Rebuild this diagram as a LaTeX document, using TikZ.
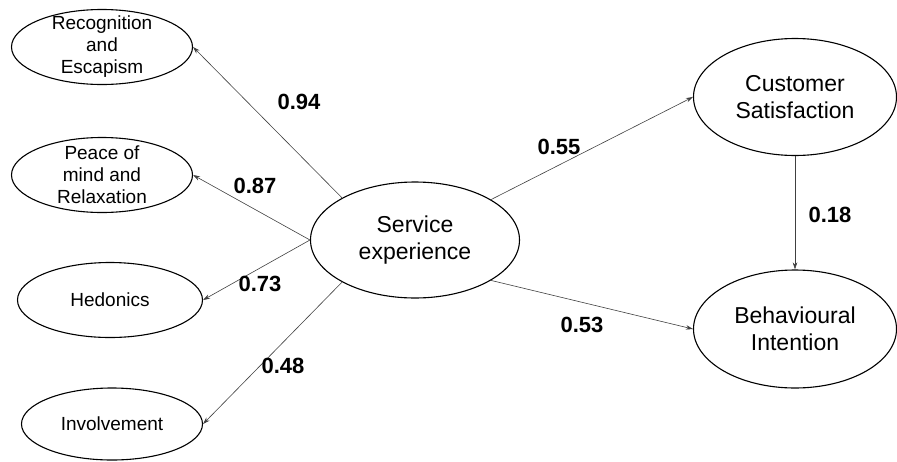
\documentclass[tikz,border=0pt]{standalone}
\usepackage{fontspec}
\setmainfont{Liberation Sans}
\usetikzlibrary{shapes.geometric,arrows.meta}
\begin{document}
\begin{tikzpicture}[x=1pt,y=-1pt,
  ell/.style={draw=black,line width=1.1pt,ellipse,inner sep=0pt},
  smalltxt/.style={align=center,font=\fontsize{19}{22}\selectfont,inner sep=0pt},
  bigtxt/.style={align=center,font=\fontsize{23}{27}\selectfont,inner sep=0pt},
  coef/.style={font=\fontsize{22}{24}\selectfont\bfseries,inner sep=0pt},
  conn/.style={draw=black!75,line width=0.6pt,-{Stealth[length=7pt,width=4.5pt]}}]
\useasboundingbox (0,0) rectangle (897,461);
% ellipses
\node[ell,minimum width=181pt,minimum height=75pt] (rec) at (102,47) {};
\node[ell,minimum width=181pt,minimum height=75pt] (pea) at (102,175) {};
\node[ell,minimum width=185pt,minimum height=75pt] (hed) at (110,300) {};
\node[ell,minimum width=181pt,minimum height=72pt] (inv) at (112,424) {};
\node[ell,minimum width=209pt,minimum height=116pt] (ser) at (415,240) {};
\node[ell,minimum width=203pt,minimum height=117pt] (cus) at (795,97) {};
\node[ell,minimum width=203pt,minimum height=118pt] (beh) at (795,329) {};
% texts
\node[smalltxt] (rec-t) at (rec) {Recognition\\and\\Escapism};
\node[smalltxt] (pea-t) at (pea) {Peace of\\mind and\\Relaxation};
\node[smalltxt] (hed-t) at (hed) {Hedonics};
\node[smalltxt] (inv-t) at (inv) {Involvement};
\node[bigtxt] (ser-t) at (ser) {Service\\experience};
\node[bigtxt] (cus-t) at (cus) {Customer\\Satisfaction};
\node[bigtxt] (beh-t) at (beh) {Behavioural\\Intention};
% connectors
\draw[conn] (ser.150) -- (rec.east);
\draw[conn] (ser.180) -- (pea.east);
\draw[conn] (ser.180) -- (hed.east);
\draw[conn] (ser.210) -- (inv.east);
\draw[conn] (ser.28) -- (cus.west);
\draw[conn] (ser.332) -- (beh.west);
\draw[conn] (cus.south) -- (beh.north);
% coefficients
\node[coef] (c94) at (299,102) {0.94};
\node[coef] (c87) at (255,186) {0.87};
\node[coef] (c73) at (260,284) {0.73};
\node[coef] (c48) at (283,366) {0.48};
\node[coef] (c55) at (559,147) {0.55};
\node[coef] (c53) at (582,325) {0.53};
\node[coef] (c18) at (830,215) {0.18};
\end{tikzpicture}
\end{document}
